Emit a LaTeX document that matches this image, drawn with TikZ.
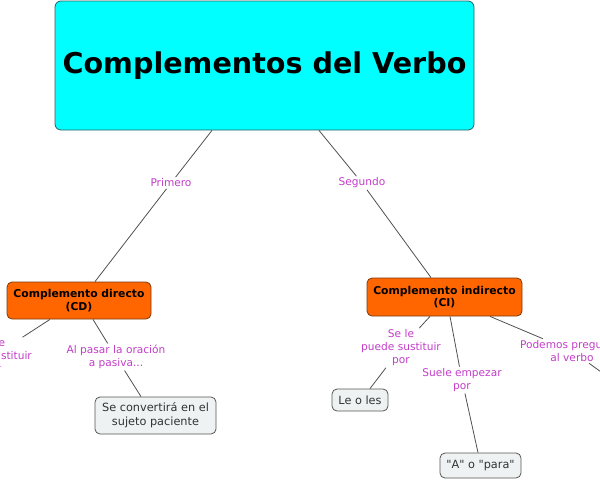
\documentclass[tikz,border=0pt]{standalone}
\usepackage{fontspec}
\setmainfont{DejaVu Sans}[Ligatures=TeXOff]
\definecolor{cyanfill}{HTML}{00FFFF}
\definecolor{cyanline}{HTML}{2F5F5F}
\definecolor{orfill}{HTML}{FF6600}
\definecolor{orline}{HTML}{7A3A10}
\definecolor{greyfill}{HTML}{EEF2F2}
\definecolor{greyline}{HTML}{555555}
\definecolor{lblcol}{HTML}{C23CC8}
\definecolor{conn}{HTML}{505050}
\tikzset{
  mainbox/.style={draw=cyanline, fill=cyanfill, rounded corners=6pt, line width=0.8pt,
    minimum width=419pt, minimum height=129pt, inner sep=0pt,
    font=\fontsize{28.6}{32}\selectfont\bfseries},
  orbox/.style={draw=orline, fill=orfill, rounded corners=5pt, line width=0.8pt,
    inner sep=0pt, align=center,
    font=\fontsize{10.8}{12.5}\selectfont\bfseries},
  greybox/.style={draw=greyline, fill=greyfill, rounded corners=5pt, line width=0.8pt,
    inner sep=0pt, align=center, text=black!80,
    font=\fontsize{11.3}{14}\selectfont},
  lbl/.style={text=lblcol, align=center, inner sep=1.5pt,
    font=\fontsize{10.6}{13}\selectfont},
  cn/.style={draw=conn, line width=0.8pt}
}
\begin{document}
\begin{tikzpicture}[x=1pt,y=-1pt]
\useasboundingbox (0,0) rectangle (600,480);
\clip (0,0) rectangle (600,480);
\node[mainbox] (main) at (264.5,65.5) {Complementos del Verbo};
\node[lbl] (primero) at (171,183) {Primero};
\node[lbl] (segundo) at (362,183) {Segundo};
\node[orbox, minimum width=144pt, minimum height=37pt] (cd) at (79,300.5) {Complemento directo\\(CD)};
\node[orbox, minimum width=155pt, minimum height=38pt] (ci) at (444.5,297) {Complemento indirecto\\(CI)};
\node[lbl] (sustL) at (-8,357) {Se le\\puede sustituir\\por};
\node[lbl] (pasar) at (116,357) {Al pasar la oración\\a pasiva...};
\node[greybox, minimum width=121pt, minimum height=37pt] (sujeto) at (155.5,415.5) {Se convertirá en el\\sujeto paciente};
\node[lbl] (sustR) at (401,348) {Se le\\puede sustituir\\por};
\node[greybox, minimum width=56pt, minimum height=22pt] (leoles) at (360,400) {Le o les};
\node[lbl] (suele) at (462,380) {Suele empezar\\por};
\node[greybox, minimum width=81pt, minimum height=25pt] (apara) at (480.5,465.5) {"A" o "para"};
\node[lbl] (podemos) at (572,351) {Podemos preguntar\\al verbo};
\coordinate (offL) at (-40,410);
\coordinate (offR) at (640,400);

\draw[cn] ([xshift=-52.5pt]main.south) -- (primero);
\draw[cn] (primero) -- ([xshift=16pt]cd.north);
\draw[cn] ([xshift=54.5pt]main.south) -- (segundo);
\draw[cn] (segundo) -- ([xshift=-13.5pt]ci.north);
\draw[cn] ([xshift=-29pt]cd.south) -- (sustL);
\draw[cn] (sustL) -- (offL);
\draw[cn] ([xshift=14pt]cd.south) -- (pasar);
\draw[cn] (pasar) -- ([xshift=-14.5pt]sujeto.north);
\draw[cn] ([xshift=-14.5pt]ci.south) -- (sustR);
\draw[cn] (sustR) -- ([xshift=10pt]leoles.north);
\draw[cn] ([xshift=5.5pt]ci.south) -- (suele);
\draw[cn] (suele) -- ([xshift=-2.5pt]apara.north);
\draw[cn] ([xshift=45.5pt]ci.south) -- (podemos);
\draw[cn] (podemos) -- (offR);
\end{tikzpicture}
\end{document}
